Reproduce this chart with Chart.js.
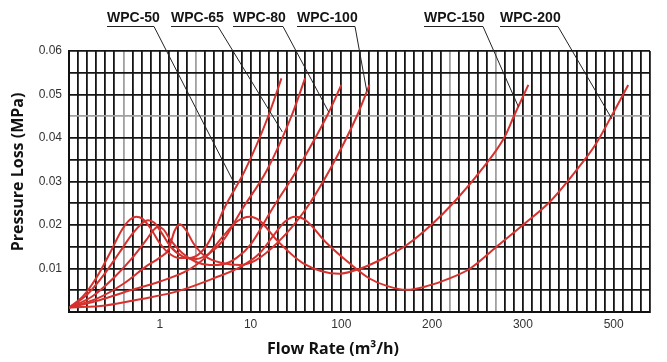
<!DOCTYPE html>
<html>
<head>
<meta charset="utf-8">
<script src="https://cdn.jsdelivr.net/npm/chart.js@4.4.0/dist/chart.umd.min.js"></script>
<style>
  html, body { margin: 0; padding: 0; background: #fff; }
  #wrap { width: 667px; height: 362px; }
</style>
</head>
<body>
<div id="wrap"><canvas id="myChart" width="667" height="362"></canvas></div>
<script>
// x values are positions on the (non uniform) flow axis:
// 1 -> "1", 2 -> "10", 3 -> "100", 4 -> "200", 5 -> "300", 6 -> "500"
const xTickLabels = ['1', '10', '100', '200', '300', '500'];
const grayX = [0.6, 1.4, 4.2, 4.7];
const grayY = [0.045];

const seriesNames = ['WPC-50', 'WPC-65', 'WPC-80', 'WPC-100', 'WPC-150', 'WPC-200'];

const wpc50X = [0, 0.15, 0.3, 0.45, 0.58, 0.67, 0.74, 0.81, 0.9, 1.0, 1.1, 1.22, 1.35, 1.5, 1.6, 1.7, 1.94, 2.195, 2.34];
const wpc50Y = [0.001, 0.0035, 0.0078, 0.0135, 0.0188, 0.0212, 0.0219, 0.0214, 0.0192, 0.0158, 0.0135, 0.0124, 0.0125, 0.0148, 0.0185, 0.0234, 0.0326, 0.045, 0.0537];

const wpc65X = [0, 0.2, 0.4, 0.55, 0.7, 0.8, 0.87, 0.94, 1.02, 1.12, 1.25, 1.4, 1.55, 1.7, 1.9, 2.18, 2.45, 2.6];
const wpc65Y = [0.001, 0.004, 0.009, 0.0135, 0.018, 0.0203, 0.0211, 0.0205, 0.0182, 0.015, 0.0128, 0.0122, 0.0135, 0.0165, 0.0234, 0.0326, 0.045, 0.0537];

const wpc80X = [0, 0.25, 0.5, 0.7, 0.85, 0.93, 0.98, 1.04, 1.12, 1.25, 1.4, 1.55, 1.7, 1.85, 2.0, 2.23, 2.51, 2.84, 3.0];
const wpc80Y = [0.001, 0.0035, 0.008, 0.0125, 0.0165, 0.0188, 0.0196, 0.019, 0.0165, 0.0135, 0.0115, 0.0108, 0.011, 0.0125, 0.0155, 0.0234, 0.0326, 0.045, 0.0522];

const wpc100X = [0, 0.3, 0.6, 0.85, 1.0, 1.1, 1.16, 1.22, 1.29, 1.37, 1.5, 1.7, 1.88, 2.05, 2.3, 2.6, 2.87, 3.17, 3.31];
const wpc100Y = [0.001, 0.003, 0.0065, 0.0105, 0.0125, 0.0145, 0.0185, 0.0202, 0.0188, 0.0158, 0.0128, 0.0112, 0.0108, 0.0118, 0.016, 0.0234, 0.0326, 0.045, 0.0522];

const wpc150X = [0, 0.3, 0.6, 1.0, 1.3, 1.5, 1.7, 1.85, 1.99, 2.1, 2.29, 2.58, 2.98, 3.2, 3.46, 3.72, 4.01, 4.23, 4.54, 4.8, 4.9, 5.06];
const wpc150Y = [0.001, 0.0025, 0.0045, 0.007, 0.0095, 0.0125, 0.0175, 0.0208, 0.0219, 0.021, 0.0165, 0.0112, 0.0088, 0.0099, 0.0123, 0.0154, 0.0204, 0.025, 0.0326, 0.0403, 0.045, 0.0522];

const wpc200X = [0, 0.4, 0.8, 1.2, 1.6, 1.9, 2.1, 2.25, 2.38, 2.49, 2.6, 2.84, 3.09, 3.31, 3.5, 3.72, 3.95, 4.2, 4.42, 4.71, 5.0, 5.3, 5.59, 5.8, 5.975, 6.16];
const wpc200Y = [0.001, 0.0015, 0.003, 0.0048, 0.0078, 0.0105, 0.0135, 0.0175, 0.0208, 0.0219, 0.0212, 0.0158, 0.0112, 0.0077, 0.006, 0.0051, 0.006, 0.0078, 0.01, 0.015, 0.02, 0.0254, 0.0326, 0.0385, 0.045, 0.0522];

// where each label's leader line touches its curve
const calloutX = [1.83, 2.35, 2.86, 3.28, 4.95, 5.98];
const calloutY = [0.0292, 0.0414, 0.046, 0.0508, 0.0472, 0.0444];

const seriesX = [wpc50X, wpc65X, wpc80X, wpc100X, wpc150X, wpc200X];
const seriesY = [wpc50Y, wpc65Y, wpc80Y, wpc100Y, wpc150Y, wpc200Y];

let datasets = [];
for (let i = 0; i < seriesNames.length; i++) {
  let pts = [];
  for (let j = 0; j < seriesX[i].length; j++) {
    pts.push({ x: seriesX[i][j], y: seriesY[i][j] });
  }
  datasets.push({
    label: seriesNames[i],
    data: pts,
    borderColor: '#d7312d',
    borderWidth: 2,
    pointRadius: 0,
    fill: false,
    cubicInterpolationMode: 'monotone'
  });
}

function near(a, b) { return Math.abs(a - b) < 1e-6; }

// label text + leader lines, axis titles
let labelLeft = [107, 171, 233, 297, 424, 500];
let leaderStart = [154, 218, 283, 355, 483, 558];

const decorPlugin = {
  id: 'decor',
  afterDatasetsDraw(chart) {
    let ctx = chart.ctx;
    let xs = chart.scales.x, ys = chart.scales.y;
    ctx.save();
    ctx.font = 'bold 14px "Liberation Sans", Arial, sans-serif';
    ctx.fillStyle = '#151515';
    ctx.strokeStyle = '#222';
    ctx.lineWidth = 1;
    for (let i = 0; i < seriesNames.length; i++) {
      ctx.fillText(seriesNames[i], labelLeft[i], 22);
      ctx.beginPath();
      ctx.moveTo(labelLeft[i], 26.5);
      ctx.lineTo(leaderStart[i], 26.5);
      ctx.lineTo(xs.getPixelForValue(calloutX[i]), ys.getPixelForValue(calloutY[i]));
      ctx.stroke();
    }
    // axis titles
    ctx.font = 'bold 16px "Open Sans", sans-serif';
    ctx.fillStyle = '#111';
    ctx.textAlign = 'center';
    ctx.textBaseline = 'middle';
    ctx.fillText('Flow Rate (m\u00b3/h)', 333, 349);
    ctx.translate(18, 172);
    ctx.rotate(-Math.PI / 2);
    ctx.fillText('Pressure Loss (MPa)', 0, 0);
    ctx.restore();
  }
};

let ctx = document.getElementById('myChart').getContext('2d');
let myChart = new Chart(ctx, {
  type: 'line',
  data: { datasets: datasets },
  options: {
    responsive: false,
    animation: false,
    devicePixelRatio: 1,
    layout: { padding: { top: 51, right: 17, left: 0, bottom: 0 } },
    plugins: { legend: { display: false }, tooltip: { enabled: false } },
    scales: {
      x: {
        type: 'linear',
        min: 0,
        max: 6.4,
        afterFit: function(s) { s.height = 50; },
        border: { color: '#111', width: 2 },
        grid: {
          lineWidth: 1.8,
          drawTicks: false,
          color: function(c) {
            let v = c.tick ? c.tick.value : -1;
            for (let g of grayX) { if (near(v, g)) return '#a0a0a0'; }
            return '#151515';
          }
        },
        ticks: {
          stepSize: 0.1,
          autoSkip: false,
          maxRotation: 0,
          padding: 5,
          color: '#333',
          font: { family: '"Liberation Sans", Arial, sans-serif', size: 12 },
          callback: function(v) {
            let r = Math.round(v);
            if (near(v, r) && r >= 1 && r <= xTickLabels.length) return xTickLabels[r - 1];
            return '';
          }
        }
      },
      y: {
        min: 0,
        max: 0.06,
        afterFit: function(s) { s.width = 69; },
        border: { color: '#111', width: 2 },
        grid: {
          lineWidth: 1.8,
          drawTicks: false,
          color: function(c) {
            let v = c.tick ? c.tick.value : -1;
            for (let g of grayY) { if (near(v, g)) return '#a0a0a0'; }
            return '#151515';
          }
        },
        ticks: {
          stepSize: 0.005,
          autoSkip: false,
          padding: 7,
          color: '#333',
          font: { family: '"Liberation Sans", Arial, sans-serif', size: 12 },
          callback: function(v) {
            let k = Math.round(v * 1000);
            if (k > 0 && k % 10 === 0) return (k / 1000).toFixed(2);
            return '';
          }
        }
      }
    }
  },
  plugins: [decorPlugin]
});
</script>
</body>
</html>
